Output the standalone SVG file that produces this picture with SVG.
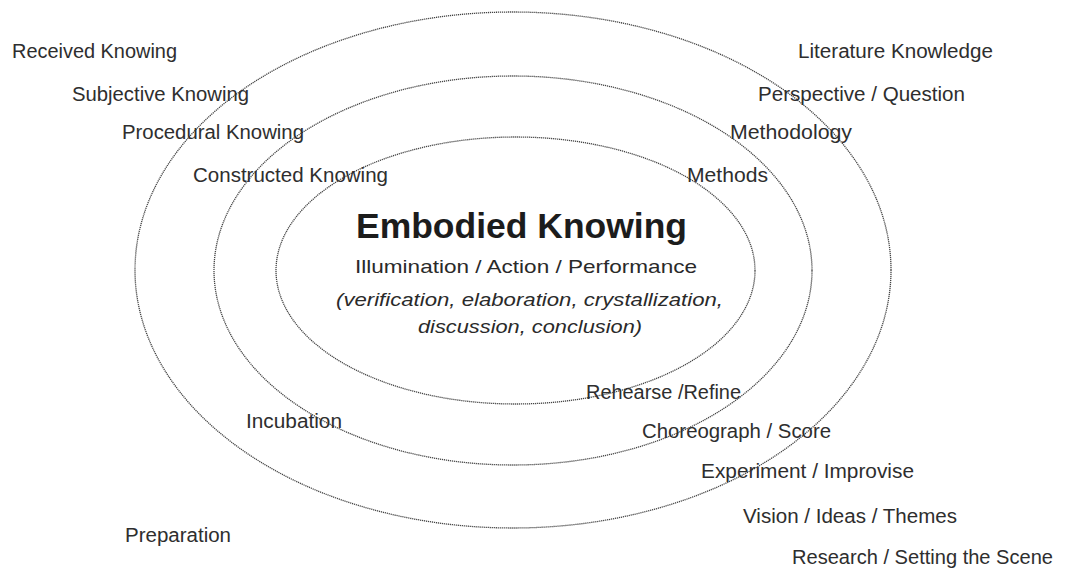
<svg xmlns="http://www.w3.org/2000/svg" width="1075" height="569" viewBox="0 0 1075 569">
  <style>
    .ring { fill: none; stroke: #444; stroke-width: 1.3; stroke-dasharray: 1.2 0.8; }
    .lbl { font-family: "Liberation Sans", Arial, sans-serif; font-size: 19.5px; fill: #2e2e2e; }
    .title { font-family: "Liberation Sans", Arial, sans-serif; font-size: 35px; font-weight: bold; fill: #1c1c1c; }
    .sub { font-family: "Liberation Sans", Arial, sans-serif; font-size: 19px; fill: #2a2a2a; }
    .it { font-family: "Liberation Sans", Arial, sans-serif; font-size: 19px; font-style: italic; fill: #2a2a2a; }
  </style>
  <rect width="1075" height="569" fill="#fff"/>

  <!-- concentric dotted rings -->
  <g id="connectors">
    <ellipse id="ring-outer" class="ring" cx="513" cy="270" rx="378" ry="258"/>
    <ellipse id="ring-middle" class="ring" cx="513" cy="270.5" rx="299" ry="194.5"/>
    <ellipse id="ring-inner" class="ring" cx="515.5" cy="270.5" rx="239.5" ry="133.5"/>
  </g>

  <!-- centre -->
  <g id="centre">
    <text class="title" x="356" y="238" textLength="331" lengthAdjust="spacingAndGlyphs">Embodied Knowing</text>
    <text class="sub" x="355" y="273" textLength="342" lengthAdjust="spacingAndGlyphs">Illumination / Action / Performance</text>
    <text class="it" x="336" y="306" textLength="387" lengthAdjust="spacingAndGlyphs">(verification, elaboration, crystallization,</text>
    <text class="it" x="418" y="333" textLength="224" lengthAdjust="spacingAndGlyphs">discussion, conclusion)</text>
  </g>

  <!-- ways of knowing (upper left) -->
  <g id="knowing">
    <text class="lbl" x="12" y="58" textLength="165" lengthAdjust="spacingAndGlyphs">Received Knowing</text>
    <text class="lbl" x="72" y="101" textLength="177" lengthAdjust="spacingAndGlyphs">Subjective Knowing</text>
    <text class="lbl" x="122" y="139" textLength="182" lengthAdjust="spacingAndGlyphs">Procedural Knowing</text>
    <text class="lbl" x="193" y="182" textLength="195" lengthAdjust="spacingAndGlyphs">Constructed Knowing</text>
  </g>

  <!-- research framing (upper right) -->
  <g id="framing">
    <text class="lbl" x="798" y="58" textLength="195" lengthAdjust="spacingAndGlyphs">Literature Knowledge</text>
    <text class="lbl" x="758" y="101" textLength="207" lengthAdjust="spacingAndGlyphs">Perspective / Question</text>
    <text class="lbl" x="730" y="139" textLength="122" lengthAdjust="spacingAndGlyphs">Methodology</text>
    <text class="lbl" x="687" y="182" textLength="81" lengthAdjust="spacingAndGlyphs">Methods</text>
  </g>

  <!-- creative stages (lower left) -->
  <g id="stages">
    <text class="lbl" x="246" y="428" textLength="96" lengthAdjust="spacingAndGlyphs">Incubation</text>
    <text class="lbl" x="125" y="542" textLength="106" lengthAdjust="spacingAndGlyphs">Preparation</text>
  </g>

  <!-- making process (lower right) -->
  <g id="process">
    <text class="lbl" x="586" y="399" textLength="155" lengthAdjust="spacingAndGlyphs">Rehearse /Refine</text>
    <text class="lbl" x="642" y="438" textLength="189" lengthAdjust="spacingAndGlyphs">Choreograph / Score</text>
    <text class="lbl" x="701" y="478" textLength="213" lengthAdjust="spacingAndGlyphs">Experiment / Improvise</text>
    <text class="lbl" x="743" y="523" textLength="214" lengthAdjust="spacingAndGlyphs">Vision / Ideas / Themes</text>
    <text class="lbl" x="792" y="564" textLength="261" lengthAdjust="spacingAndGlyphs">Research / Setting the Scene</text>
  </g>
</svg>
